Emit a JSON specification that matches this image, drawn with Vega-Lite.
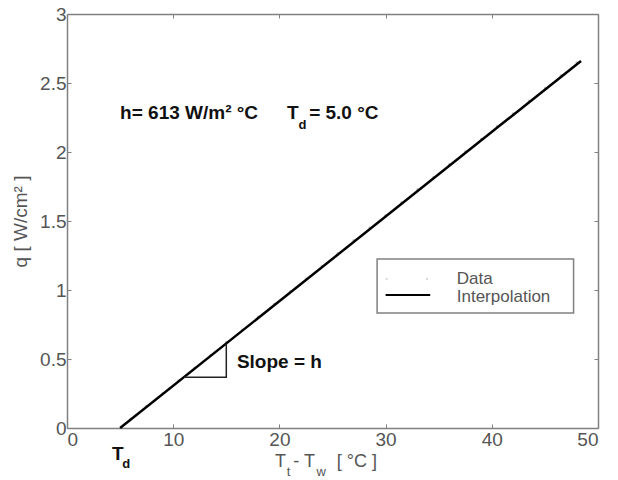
{
  "$schema": "https://vega.github.io/schema/vega-lite/v6.json",
  "width": 531,
  "height": 414,
  "autosize": "none",
  "padding": {"left": 67, "top": 14, "right": 20, "bottom": 52},
  "background": "white",
  "config": {
    "view": {"stroke": null},
    "font": "Liberation Sans",
    "axis": {
      "grid": false,
      "domainColor": "#808080",
      "domainWidth": 1.5,
      "tickColor": "#808080",
      "tickSize": -4,
      "labelFont": "Liberation Sans",
      "labelFontSize": 19,
      "labelColor": "#555555",
      "titleFont": "Liberation Sans",
      "titleFontSize": 19,
      "titleFontWeight": "normal",
      "titleColor": "#555555"
    }
  },
  "datasets": {
    "measured": [
      {"dt": 6, "q": 0.068}, {"dt": 7.5, "q": 0.160}, {"dt": 9, "q": 0.251}, {"dt": 10.5, "q": 0.344},
      {"dt": 12, "q": 0.436}, {"dt": 13.5, "q": 0.527}, {"dt": 15, "q": 0.621}, {"dt": 16.5, "q": 0.712},
      {"dt": 18, "q": 0.806}, {"dt": 19.5, "q": 0.898}, {"dt": 21, "q": 0.990}, {"dt": 22.5, "q": 1.082},
      {"dt": 24, "q": 1.175}, {"dt": 25.5, "q": 1.266}, {"dt": 27, "q": 1.360}, {"dt": 28.5, "q": 1.452},
      {"dt": 30, "q": 1.542}, {"dt": 31.5, "q": 1.636}, {"dt": 33, "q": 1.728}, {"dt": 34.5, "q": 1.818},
      {"dt": 36, "q": 1.912}, {"dt": 37.5, "q": 2.003}, {"dt": 39, "q": 2.095}, {"dt": 40.5, "q": 2.188},
      {"dt": 42, "q": 2.279}, {"dt": 43.5, "q": 2.372}, {"dt": 45, "q": 2.463}, {"dt": 46.5, "q": 2.556},
      {"dt": 48, "q": 2.648}
    ],
    "fit": [{"dt": 5, "q": 0}, {"dt": 48.4, "q": 2.66}],
    "triangle": [{"i": 1, "dt": 11, "q": 0.368}, {"i": 2, "dt": 15, "q": 0.368}, {"i": 3, "dt": 15, "q": 0.613}],
    "legendBox": [{"x1": 29.2, "x2": 47.7, "y1": 0.833, "y2": 1.225}],
    "legendLine": [{"x1": 30.0, "x2": 34.2, "y": 0.964}],
    "legendDots": [{"dt": 30.1, "q": 1.08}, {"dt": 33.9, "q": 1.08}],
    "legendText": [{"dt": 36.7, "q": 1.045, "label": "Data"}, {"dt": 36.7, "q": 0.91, "label": "Interpolation"}],
    "boldMain": [
      {"dt": 5.0, "q": 2.239, "label": "h= 613 W/m² °C"},
      {"dt": 20.72, "q": 2.239, "label": "T"},
      {"dt": 22.8, "q": 2.239, "label": "= 5.0 °C"},
      {"dt": 16.0, "q": 0.435, "label": "Slope = h"},
      {"dt": 4.24, "q": -0.232, "label": "T"}
    ],
    "boldSub": [
      {"dt": 21.8, "q": 2.17, "label": "d"},
      {"dt": 5.2, "q": -0.29, "label": "d"}
    ],
    "titleMain": [
      {"dt": 19.59, "q": -0.283, "label": "T"},
      {"dt": 21.3, "q": -0.283, "label": "- T"},
      {"dt": 25.4, "q": -0.283, "label": "[ °C ]"}
    ],
    "titleSub": [
      {"dt": 20.7, "q": -0.345, "label": "t"},
      {"dt": 23.5, "q": -0.345, "label": "w"}
    ]
  },
  "resolve": {"axis": {"x": "independent", "y": "independent"}},
  "layer": [
    {
      "data": {"name": "measured"},
      "mark": {"type": "point", "filled": true, "size": 6, "color": "#c4c4c4", "opacity": 1},
      "encoding": {
        "x": {"field": "dt", "type": "quantitative", "scale": {"domain": [0, 50], "nice": false, "zero": false},
              "axis": {"values": [0, 10, 20, 30, 40, 50], "title": null, "labelPadding": 6}},
        "y": {"field": "q", "type": "quantitative", "scale": {"domain": [0, 3], "nice": false, "zero": false},
              "axis": {"values": [0, 0.5, 1, 1.5, 2, 2.5, 3], "format": "~g", "title": "q  [ W/cm² ]", "labelPadding": 5, "titlePadding": 9}}
      }
    },
    {
      "data": {"name": "fit"},
      "mark": {"type": "line", "color": "black", "strokeWidth": 2.5},
      "encoding": {
        "x": {"field": "dt", "type": "quantitative", "axis": {"orient": "top", "values": [0, 10, 20, 30, 40, 50], "labels": false, "title": null}},
        "y": {"field": "q", "type": "quantitative", "axis": {"orient": "right", "values": [0, 0.5, 1, 1.5, 2, 2.5, 3], "labels": false, "title": null}}
      }
    },
    {
      "data": {"name": "triangle"},
      "mark": {"type": "line", "color": "#222222", "strokeWidth": 1.5},
      "encoding": {
        "x": {"field": "dt", "type": "quantitative", "axis": null},
        "y": {"field": "q", "type": "quantitative", "axis": null},
        "order": {"field": "i"}
      }
    },
    {
      "data": {"name": "legendBox"},
      "mark": {"type": "rect", "fill": "white", "stroke": "#808080", "strokeWidth": 1.5},
      "encoding": {
        "x": {"field": "x1", "type": "quantitative", "axis": null},
        "x2": {"field": "x2"},
        "y": {"field": "y1", "type": "quantitative", "axis": null},
        "y2": {"field": "y2"}
      }
    },
    {
      "data": {"name": "legendLine"},
      "mark": {"type": "rule", "color": "black", "strokeWidth": 2},
      "encoding": {
        "x": {"field": "x1", "type": "quantitative", "axis": null},
        "x2": {"field": "x2"},
        "y": {"field": "y", "type": "quantitative", "axis": null}
      }
    },
    {
      "data": {"name": "legendDots"},
      "mark": {"type": "point", "filled": true, "size": 5, "color": "#c4c4c4"},
      "encoding": {
        "x": {"field": "dt", "type": "quantitative", "axis": null},
        "y": {"field": "q", "type": "quantitative", "axis": null}
      }
    },
    {
      "data": {"name": "legendText"},
      "mark": {"type": "text", "align": "left", "baseline": "alphabetic", "fontSize": 17, "color": "#555555"},
      "encoding": {
        "x": {"field": "dt", "type": "quantitative", "axis": null},
        "y": {"field": "q", "type": "quantitative", "axis": null},
        "text": {"field": "label"}
      }
    },
    {
      "data": {"name": "boldMain"},
      "mark": {"type": "text", "align": "left", "baseline": "alphabetic", "fontSize": 19, "fontWeight": "bold", "color": "#111111"},
      "encoding": {
        "x": {"field": "dt", "type": "quantitative", "axis": null},
        "y": {"field": "q", "type": "quantitative", "axis": null},
        "text": {"field": "label"}
      }
    },
    {
      "data": {"name": "boldSub"},
      "mark": {"type": "text", "align": "left", "baseline": "alphabetic", "fontSize": 13, "fontWeight": "bold", "color": "#111111"},
      "encoding": {
        "x": {"field": "dt", "type": "quantitative", "axis": null},
        "y": {"field": "q", "type": "quantitative", "axis": null},
        "text": {"field": "label"}
      }
    },
    {
      "data": {"name": "titleMain"},
      "mark": {"type": "text", "align": "left", "baseline": "alphabetic", "fontSize": 18, "color": "#555555"},
      "encoding": {
        "x": {"field": "dt", "type": "quantitative", "axis": null},
        "y": {"field": "q", "type": "quantitative", "axis": null},
        "text": {"field": "label"}
      }
    },
    {
      "data": {"name": "titleSub"},
      "mark": {"type": "text", "align": "left", "baseline": "alphabetic", "fontSize": 13, "color": "#555555"},
      "encoding": {
        "x": {"field": "dt", "type": "quantitative", "axis": null},
        "y": {"field": "q", "type": "quantitative", "axis": null},
        "text": {"field": "label"}
      }
    }
  ]
}
